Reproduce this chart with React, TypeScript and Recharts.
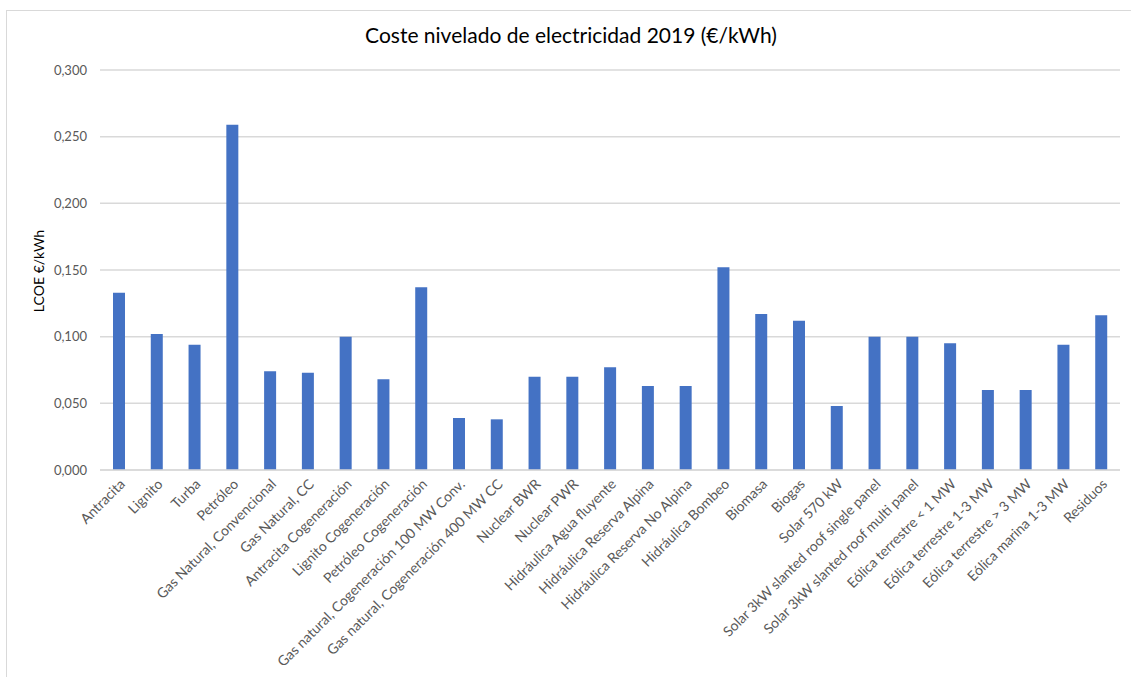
import { BarChart, Bar, XAxis, YAxis, CartesianGrid, Label } from "recharts";

const technologies = [
  "Antracita",
  "Lignito",
  "Turba",
  "Petróleo",
  "Gas Natural, Convencional",
  "Gas Natural, CC",
  "Antracita Cogeneración",
  "Lignito Cogeneración",
  "Petróleo Cogeneración",
  "Gas natural, Cogeneración 100 MW Conv.",
  "Gas natural, Cogeneración 400 MW CC",
  "Nuclear BWR",
  "Nuclear PWR",
  "Hidráulica Agua fluyente",
  "Hidráulica Reserva Alpina",
  "Hidráulica Reserva No Alpina",
  "Hidráulica Bombeo",
  "Biomasa",
  "Biogas",
  "Solar 570 kW",
  "Solar 3kW slanted roof single panel",
  "Solar 3kW slanted roof multi panel",
  "Eólica terrestre < 1 MW",
  "Eólica terrestre 1-3 MW",
  "Eólica terrestre > 3 MW",
  "Eólica marina 1-3 MW",
  "Residuos",
];

const lcoe = [
  0.133, 0.102, 0.094, 0.259, 0.074, 0.073, 0.1, 0.068, 0.137, 0.039, 0.038,
  0.07, 0.07, 0.077, 0.063, 0.063, 0.152, 0.117, 0.112, 0.048, 0.1, 0.1,
  0.095, 0.06, 0.06, 0.094, 0.116,
];

const yTicks = [0, 0.05, 0.1, 0.15, 0.2, 0.25, 0.3];

const data = technologies.map((name, i) => ({ name, lcoe: lcoe[i] }));

const FONT = "Lato, 'Open Sans', sans-serif";
const fmt = (v: number) => v.toFixed(3).replace(".", ",");

export default function App() {
  return (
    <div
      style={{
        position: "absolute",
        left: 0,
        top: 0,
        width: 1131,
        height: 677,
        background: "#fff",
        fontFamily: FONT,
        overflow: "hidden",
      }}
    >
      <div
        style={{
          position: "absolute",
          left: 6,
          top: 10,
          width: 1140,
          height: 700,
          border: "1px solid #d9d9d9",
        }}
      />
      <div
        style={{
          position: "absolute",
          top: 22,
          left: 0,
          width: 1142,
          textAlign: "center",
          fontSize: 21,
          color: "#000",
        }}
      >
        Coste nivelado de electricidad 2019 (€/kWh)
      </div>
      <div style={{ position: "absolute", left: 0, top: 0 }}>
        <BarChart
          width={1131}
          height={677}
          data={data}
          margin={{ top: 70, right: 11, left: 0, bottom: 0 }}
          barSize={12}
        >
          <CartesianGrid vertical={false} stroke="#d9d9d9" strokeWidth={1.5} />
          <XAxis
            dataKey="name"
            interval={0}
            angle={-45}
            textAnchor="end"
            height={207}
            tickLine={false}
            axisLine={{ stroke: "#d9d9d9", strokeWidth: 1.5 }}
            tickMargin={2}
            tick={{ fontSize: 14, fill: "#595959", fontFamily: FONT }}
          />
          <YAxis
            width={100}
            domain={[0, 0.3]}
            ticks={yTicks}
            tickFormatter={fmt}
            tickLine={false}
            axisLine={false}
            tickMargin={7}
            tick={{ fontSize: 13, fill: "#595959", fontFamily: FONT }}
          >
            <Label
              content={({ viewBox }: any) => {
                const cx = 38;
                const cy = viewBox.y + viewBox.height / 2 + 1;
                return (
                  <text
                    x={cx}
                    y={cy}
                    transform={`rotate(-90 ${cx} ${cy})`}
                    textAnchor="middle"
                    dominantBaseline="central"
                    fontSize={14}
                    fill="#000"
                    fontFamily={FONT}
                  >
                    LCOE €/kWh
                  </text>
                );
              }}
            />
          </YAxis>
          <Bar dataKey="lcoe" fill="#4472C4" isAnimationActive={false} />
        </BarChart>
      </div>
    </div>
  );
}
